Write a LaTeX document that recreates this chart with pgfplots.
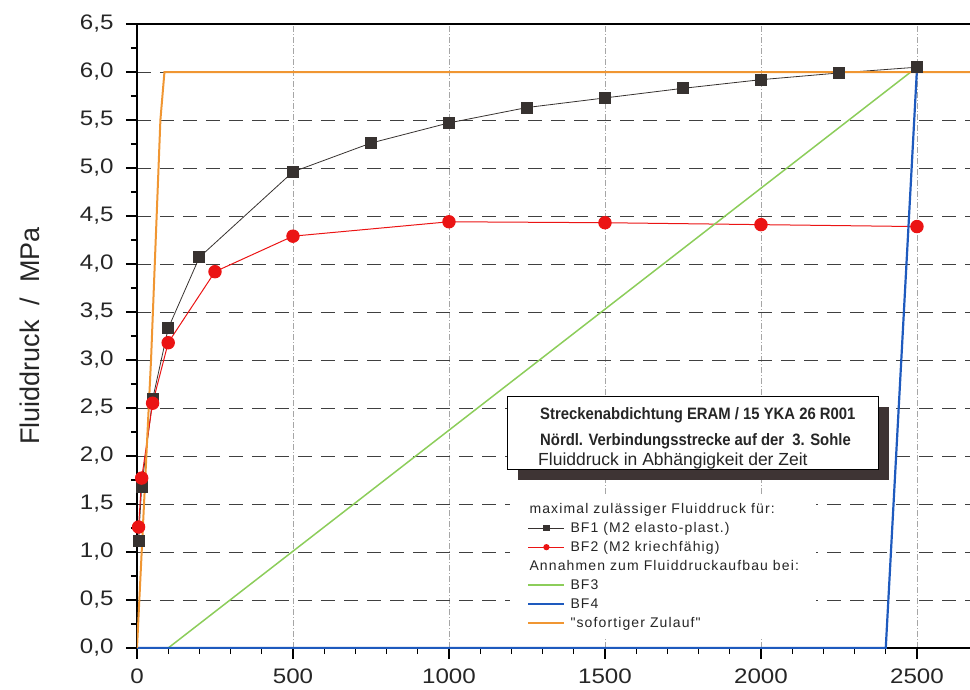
\documentclass[border=0pt]{standalone}
\usepackage{pgfplots}
\pgfplotsset{compat=1.18}
\usetikzlibrary{shadows}
\usepackage{fontspec}
\setmainfont{Liberation Sans}
\newfontfamily\boxfont[FakeStretch=0.9]{Liberation Sans}
\newfontfamily\legfont[LetterSpace=8]{Liberation Sans}
\newfontfamily\tickfont[FakeStretch=1.15]{Liberation Sans}

\definecolor{bfone}{RGB}{55,50,48}
\definecolor{bftwo}{RGB}{235,20,20}
\definecolor{bfthree}{RGB}{140,205,90}
\definecolor{bffour}{RGB}{30,90,190}
\definecolor{zulauf}{RGB}{240,150,50}
\definecolor{schatten}{RGB}{62,52,52}

\begin{document}
\begin{tikzpicture}
\begin{axis}[
  name=ax,
  scale only axis, width=833pt, height=624pt,
  xmin=0, xmax=2670, ymin=0, ymax=6.5,
  axis x line=box, axis y line=left,
  axis line style={-, black, line width=2pt},
  xtick pos=left, ytick pos=left,
  xtick={0,500,...,2500}, minor x tick num=4,
  ytick={0,0.5,...,6.5}, minor y tick num=1,
  tick align=outside,
  major tick length=11pt, minor tick length=6pt,
  tick style={black, line width=1.3pt},
  xmajorgrids, ymajorgrids,
  x grid style={gray!70, line width=0.7pt, dash pattern=on 6pt off 2pt on 1pt off 2pt},
  y grid style={black!75, line width=0.8pt, dash pattern=on 14pt off 9pt},
  /pgf/number format/assume math mode=true,
  ticklabel style={font=\tickfont\fontsize{21}{24}\selectfont, text=black!85},
  yticklabel style={xshift=-9pt, /pgf/number format/.cd, fixed, fixed zerofill, precision=1, use comma},
  xticklabel style={yshift=-6pt, /pgf/number format/.cd, 1000 sep={}},
  ylabel={Fluiddruck\ \ /\ \ MPa},
  ylabel style={at={(axis description cs:-0.1285,0.5)}, anchor=center,
    font=\fontsize{27}{32}\selectfont, text=black!85},
  legend cell align=left,
  legend image code/.code={%
    \draw[mark repeat=2, mark phase=2, #1, mark size=2.6pt] plot coordinates {(0pt,0pt) (18pt,0pt) (36pt,0pt)};},
  legend style={at={(axis cs:1196,1.594)}, anchor=north west, draw=none, fill=white,
    inner xsep=17pt, inner ysep=7pt, row sep=5pt, column sep=5pt,
    nodes={inner sep=0pt, text height=11pt, text depth=3pt},
    font=\legfont\fontsize{14}{17}\selectfont, text=black!85},
]
\addlegendimage{empty legend}
\addlegendentry{\hspace*{-41pt}maximal zulässiger Fluiddruck für:}

% BF1: elasto-plastisches Materialmodell
\addplot[bfone, line width=0.8pt, mark=square*, mark size=5.5pt,
  mark options={solid, fill=bfone}] coordinates {
  (5,1.12) (15,1.68) (50,2.59) (100,3.33) (200,4.07) (500,4.96) (750,5.26)
  (1000,5.47) (1250,5.63) (1500,5.73) (1750,5.83) (2000,5.92) (2250,5.99) (2500,6.05)
};
\addlegendentry{BF1 (M2 elasto-plast.)}

% BF2: kriechfähiges Materialmodell
\addplot[bftwo, line width=1pt, mark=*, mark size=6.2pt,
  mark options={solid, fill=bftwo}] coordinates {
  (5,1.26) (15,1.77) (50,2.55) (100,3.18) (250,3.92) (500,4.29)
  (1000,4.44) (1500,4.43) (2000,4.41) (2500,4.39)
};
\addlegendentry{BF2 (M2 kriechfähig)}

\addlegendimage{empty legend}
\addlegendentry{\hspace*{-41pt}Annahmen zum Fluiddruckaufbau bei:}

% Aufbauannahmen
\addplot[bfthree, line width=1.5pt] coordinates {(100,0) (2500,6.05)};
\addlegendentry{BF3}
\addplot[bffour, line width=2.2pt] coordinates {(0,0) (2400,0) (2500,6.03)};
\addlegendentry{BF4}
\addplot[zulauf, line width=2pt] coordinates {(0,0) (45,3) (75,5.5) (88,6.0) (2670,6.0)};
\addlegendentry{"sofortiger Zulauf"}

% Titelkasten mit Schatten
\node[draw=black, line width=1.3pt, fill=white, anchor=north west,
  minimum width=371pt, minimum height=73pt, inner sep=0pt,
  drop shadow={shadow xshift=10pt, shadow yshift=-10pt, fill=schatten, opacity=1}]
  (tbox) at (axis cs:1186,2.625) {};
\end{axis}
\node[anchor=base west, font=\boxfont\bfseries\fontsize{16.5}{20}\selectfont, text=black!85, inner sep=0pt]
  at ([shift={(33pt,-23pt)}]tbox.north west) {Streckenabdichtung ERAM / 15 YKA 26 R001};
\node[anchor=base west, font=\boxfont\bfseries\fontsize{16.5}{20}\selectfont, text=black!85, inner sep=0pt]
  at ([shift={(33pt,-49pt)}]tbox.north west) {Nördl. Verbindungsstrecke auf der\ \ 3. Sohle};
\node[anchor=base west, font=\fontsize{17.5}{21}\selectfont, text=black!85, inner sep=0pt]
  at ([shift={(31pt,-69pt)}]tbox.north west) {Fluiddruck in Abhängigkeit der Zeit};
\pgfresetboundingbox
\path (ax.south west) ++(-137pt,-41pt) rectangle ++(970pt,689pt);
\end{tikzpicture}
\end{document}
